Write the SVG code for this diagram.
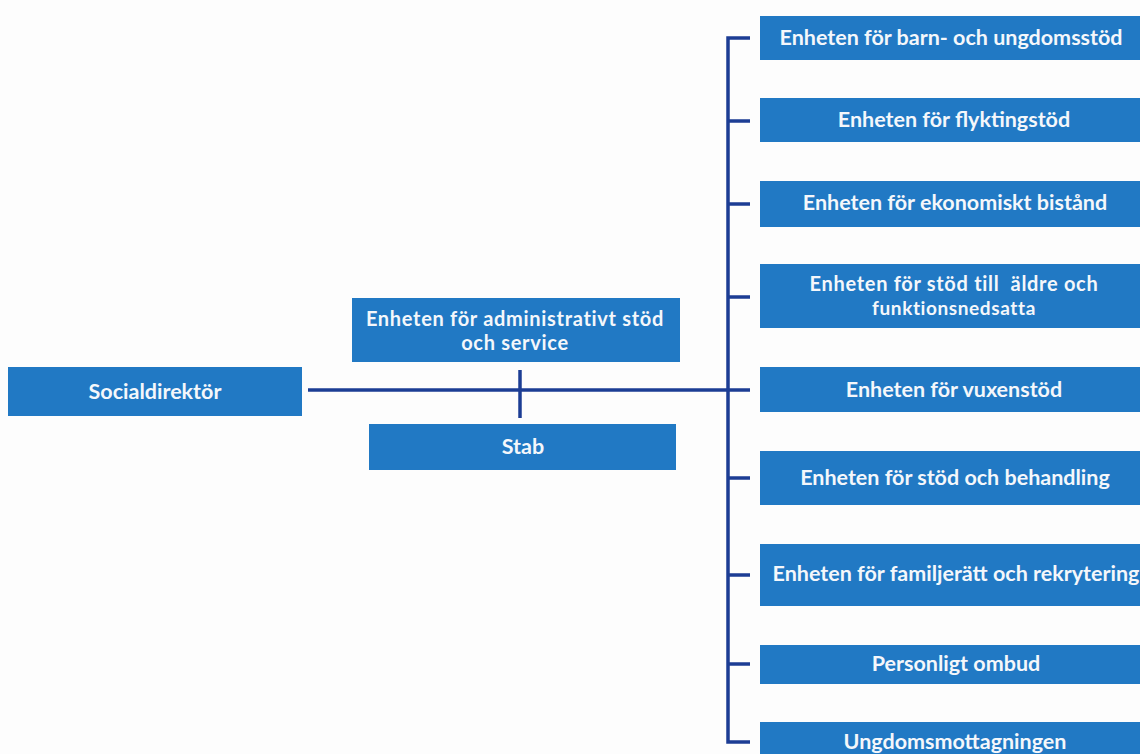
<svg xmlns="http://www.w3.org/2000/svg" width="1140" height="754" viewBox="0 0 1140 754">
<style>
.box{fill:#2179c4}
.t{fill:#f4f7fb;font-family:Lato,"Liberation Sans",sans-serif;font-weight:bold;font-size:21.5px;text-anchor:middle;white-space:pre}
.t2{font-size:20px;letter-spacing:0.7px}
.t3{font-size:19px;letter-spacing:0.6px}
.ln{stroke:#1c3d94;stroke-width:3.5;fill:none}
</style>
<rect width="1140" height="754" fill="#fdfdfd"/>
<g id="connectors">
<path class="ln" d="M308 390 H728"/>
<path class="ln" d="M520 370 V418"/>
<path class="ln" d="M750 38 H728 V742 H750"/>
<path class="ln" d="M728 121 H750 M728 204 H750 M728 297 H750 M728 390 H750 M728 478 H750 M728 575 H750 M728 664 H750"/>
</g>
<g id="socialdirektor"><rect class="box" x="8" y="367" width="294" height="49"/><text class="t" x="155" y="399">Socialdirektör</text></g>
<g id="admin"><rect class="box" x="352" y="298" width="328" height="64"/><text class="t t2" x="515" y="326">Enheten för administrativt stöd</text><text class="t t2" x="515" y="350">och service</text></g>
<g id="stab"><rect class="box" x="369" y="424" width="307" height="46"/><text class="t" x="523" y="454">Stab</text></g>
<g id="barn"><rect class="box" x="760" y="16" width="380" height="44"/><text class="t" x="951" y="45">Enheten för barn- och ungdomsstöd</text></g>
<g id="flykting"><rect class="box" x="760" y="98" width="380" height="44"/><text class="t" x="954" y="127">Enheten för flyktingstöd</text></g>
<g id="ekonomiskt"><rect class="box" x="760" y="181" width="380" height="46"/><text class="t" x="955" y="210">Enheten för ekonomiskt bistånd</text></g>
<g id="aldre"><rect class="box" x="760" y="264" width="380" height="64"/><text class="t t2" x="954" y="291" xml:space="preserve">Enheten för stöd till  äldre och</text><text class="t t3" x="954" y="315">funktionsnedsatta</text></g>
<g id="vuxen"><rect class="box" x="760" y="367" width="380" height="45"/><text class="t" x="954" y="397">Enheten för vuxenstöd</text></g>
<g id="behandling"><rect class="box" x="760" y="451" width="380" height="54"/><text class="t" x="955" y="485">Enheten för stöd och behandling</text></g>
<g id="familjeratt"><rect class="box" x="760" y="544" width="380" height="62"/><text class="t" x="956" y="581">Enheten för familjerätt och rekrytering</text></g>
<g id="ombud"><rect class="box" x="760" y="645" width="380" height="39"/><text class="t" x="956" y="671">Personligt ombud</text></g>
<g id="ungdomsmottagningen"><rect class="box" x="760" y="722" width="380" height="40"/><text class="t" x="955" y="749">Ungdomsmottagningen</text></g>
</svg>
